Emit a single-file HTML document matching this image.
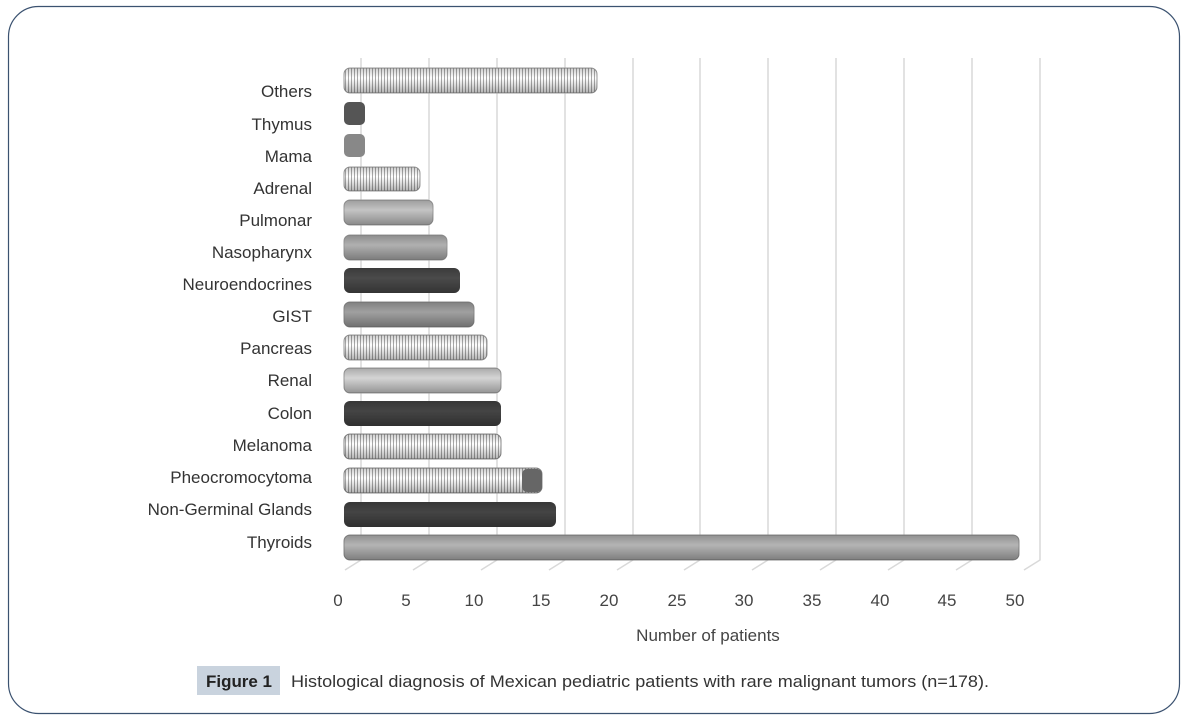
<!DOCTYPE html>
<html><head><style>
body{margin:0;width:1186px;height:721px;background:#fff;overflow:hidden;font-family:"Liberation Sans",sans-serif}
</style></head><body>
<svg width="1186" height="721" xmlns="http://www.w3.org/2000/svg">
<defs>
<pattern id="hatch" width="3" height="3" patternUnits="userSpaceOnUse"><rect width="3" height="3" fill="#fff"/><rect width="1" height="3" fill="#aaa"/></pattern>
<linearGradient id="sh" x1="0" y1="0" x2="0" y2="1"><stop offset="0" stop-color="#000" stop-opacity="0.2"/><stop offset="0.4" stop-color="#000" stop-opacity="0"/><stop offset="1" stop-color="#000" stop-opacity="0.3"/></linearGradient>
</defs>
<rect x="8.5" y="6.5" width="1171" height="707" rx="30" fill="none" stroke="#3b5270" stroke-width="1.2"/>
<g stroke="#d9d9d9" stroke-width="1.5" fill="none">
<polyline points="361,58 361,560 345,570"/>
<polyline points="429,58 429,560 413,570"/>
<polyline points="497,58 497,560 481,570"/>
<polyline points="565,58 565,560 549,570"/>
<polyline points="633,58 633,560 617,570"/>
<polyline points="700,58 700,560 684,570"/>
<polyline points="768,58 768,560 752,570"/>
<polyline points="836,58 836,560 820,570"/>
<polyline points="904,58 904,560 888,570"/>
<polyline points="972,58 972,560 956,570"/>
<polyline points="1040,58 1040,560 1024,570"/>
</g>
<g font-size="17" fill="#333" text-anchor="end">
<text x="312" y="97">Others</text><text x="312" y="130">Thymus</text><text x="312" y="162">Mama</text>
<text x="312" y="194">Adrenal</text><text x="312" y="226">Pulmonar</text><text x="312" y="258">Nasopharynx</text>
<text x="312" y="290">Neuroendocrines</text><text x="312" y="322">GIST</text><text x="312" y="354">Pancreas</text>
<text x="312" y="386">Renal</text><text x="312" y="419">Colon</text><text x="312" y="451">Melanoma</text>
<text x="312" y="483">Pheocromocytoma</text><text x="312" y="515">Non-Germinal Glands</text><text x="312" y="548">Thyroids</text>
</g>
<g>
<rect x="344" y="68" width="253" height="25" rx="6" fill="url(#hatch)" stroke="#999"/><rect x="344" y="68" width="253" height="25" rx="6" fill="url(#sh)"/>
<rect x="344" y="102" width="21" height="23" rx="5" fill="#555"/>
<rect x="344" y="134" width="21" height="23" rx="5" fill="#888"/>
<rect x="344" y="167" width="76" height="24" rx="6" fill="url(#hatch)" stroke="#999"/><rect x="344" y="167" width="76" height="24" rx="6" fill="url(#sh)"/>
<rect x="344" y="200" width="89" height="25" rx="6" fill="#c4c4c4" stroke="#999"/><rect x="344" y="200" width="89" height="25" rx="6" fill="url(#sh)"/>
<rect x="344" y="235" width="103" height="25" rx="6" fill="#b0b0b0" stroke="#999"/><rect x="344" y="235" width="103" height="25" rx="6" fill="url(#sh)"/>
<rect x="344" y="268" width="116" height="25" rx="6" fill="#4a4a4a"/><rect x="344" y="268" width="116" height="25" rx="6" fill="url(#sh)"/>
<rect x="344" y="302" width="130" height="25" rx="6" fill="#a0a0a0" stroke="#888"/><rect x="344" y="302" width="130" height="25" rx="6" fill="url(#sh)"/>
<rect x="344" y="335" width="143" height="25" rx="6" fill="url(#hatch)" stroke="#999"/><rect x="344" y="335" width="143" height="25" rx="6" fill="url(#sh)"/>
<rect x="344" y="368" width="157" height="25" rx="6" fill="#d4d4d4" stroke="#999"/><rect x="344" y="368" width="157" height="25" rx="6" fill="url(#sh)"/>
<rect x="344" y="401" width="157" height="25" rx="6" fill="#444"/><rect x="344" y="401" width="157" height="25" rx="6" fill="url(#sh)"/>
<rect x="344" y="434" width="157" height="25" rx="6" fill="url(#hatch)" stroke="#888"/><rect x="344" y="434" width="157" height="25" rx="6" fill="url(#sh)"/>
<rect x="344" y="468" width="198" height="25" rx="6" fill="url(#hatch)" stroke="#888"/><rect x="344" y="468" width="198" height="25" rx="6" fill="url(#sh)"/><rect x="522" y="469" width="20" height="23" rx="5" fill="#666"/>
<rect x="344" y="502" width="212" height="25" rx="6" fill="#444"/><rect x="344" y="502" width="212" height="25" rx="6" fill="url(#sh)"/>
<rect x="344" y="535" width="675" height="25" rx="6" fill="#b4b4b4" stroke="#888"/><rect x="344" y="535" width="675" height="25" rx="6" fill="url(#sh)"/>
</g>
<g font-size="17" fill="#444" text-anchor="middle">
<text x="338" y="606">0</text><text x="406" y="606">5</text><text x="474" y="606">10</text><text x="541" y="606">15</text>
<text x="609" y="606">20</text><text x="677" y="606">25</text><text x="744" y="606">30</text><text x="812" y="606">35</text>
<text x="880" y="606">40</text><text x="947" y="606">45</text><text x="1015" y="606">50</text>
<text x="708" y="641">Number of patients</text>
</g>
<rect x="197" y="666" width="83" height="29" fill="#c9d3de"/>
<text x="206" y="687" font-size="17" font-weight="bold" fill="#222" textLength="66" lengthAdjust="spacingAndGlyphs">Figure 1</text>
<text x="291" y="687" font-size="17" fill="#333" textLength="698" lengthAdjust="spacingAndGlyphs">Histological diagnosis of Mexican pediatric patients with rare malignant tumors (n=178).</text>
</svg>
</body></html>
